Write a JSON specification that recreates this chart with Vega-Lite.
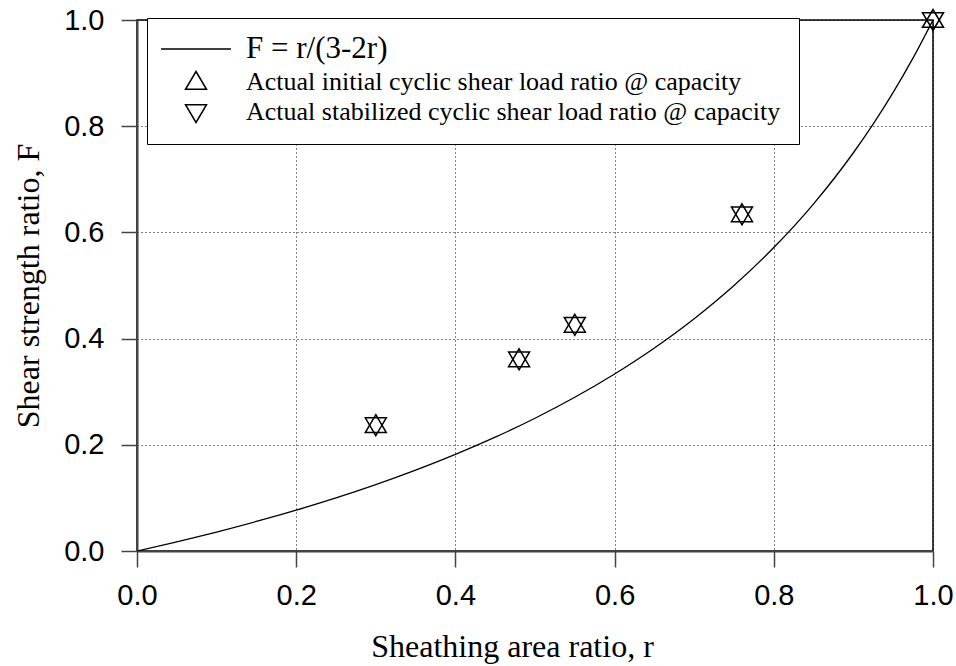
{
  "$schema": "https://vega.github.io/schema/vega-lite/v6.json",
  "autosize": {"type": "none"},
  "width": 796,
  "height": 531,
  "padding": {"left": 137, "top": 20, "right": 23, "bottom": 115},
  "background": "white",
  "config": {
    "view": {"stroke": "black", "strokeWidth": 1.5},
    "axis": {
      "grid": true,
      "gridColor": "black",
      "gridDash": [1, 3],
      "gridWidth": 1,
      "gridOpacity": 1,
      "domainColor": "#444",
      "domainWidth": 2,
      "tickColor": "#444",
      "tickWidth": 1.5,
      "tickSize": 16,
      "labelFont": "Liberation Sans",
      "labelFontSize": 29,
      "labelColor": "black",
      "titleFont": "Liberation Serif",
      "titleFontSize": 32,
      "titleFontWeight": "normal",
      "titleColor": "black"
    }
  },
  "datasets": {
    "curve": [
      {"r": 0, "F": 0},
      {"r": 0.05, "F": 0.01724},
      {"r": 0.1, "F": 0.03571},
      {"r": 0.15, "F": 0.05556},
      {"r": 0.2, "F": 0.07692},
      {"r": 0.25, "F": 0.1},
      {"r": 0.3, "F": 0.125},
      {"r": 0.35, "F": 0.15217},
      {"r": 0.4, "F": 0.18182},
      {"r": 0.45, "F": 0.21429},
      {"r": 0.5, "F": 0.25},
      {"r": 0.55, "F": 0.28947},
      {"r": 0.6, "F": 0.33333},
      {"r": 0.65, "F": 0.38235},
      {"r": 0.7, "F": 0.4375},
      {"r": 0.75, "F": 0.5},
      {"r": 0.8, "F": 0.57143},
      {"r": 0.85, "F": 0.65385},
      {"r": 0.9, "F": 0.75},
      {"r": 0.925, "F": 0.80435},
      {"r": 0.95, "F": 0.86364},
      {"r": 0.975, "F": 0.92857},
      {"r": 1.0, "F": 1.0}
    ],
    "points": [
      {"r": 0.3, "F": 0.237, "series": "Actual initial cyclic shear load ratio @ capacity"},
      {"r": 0.48, "F": 0.361, "series": "Actual initial cyclic shear load ratio @ capacity"},
      {"r": 0.55, "F": 0.426, "series": "Actual initial cyclic shear load ratio @ capacity"},
      {"r": 0.76, "F": 0.634, "series": "Actual initial cyclic shear load ratio @ capacity"},
      {"r": 1.0, "F": 1.0, "series": "Actual initial cyclic shear load ratio @ capacity"},
      {"r": 0.3, "F": 0.237, "series": "Actual stabilized cyclic shear load ratio @ capacity"},
      {"r": 0.48, "F": 0.361, "series": "Actual stabilized cyclic shear load ratio @ capacity"},
      {"r": 0.55, "F": 0.426, "series": "Actual stabilized cyclic shear load ratio @ capacity"},
      {"r": 0.76, "F": 0.634, "series": "Actual stabilized cyclic shear load ratio @ capacity"},
      {"r": 1.0, "F": 1.0, "series": "Actual stabilized cyclic shear load ratio @ capacity"}
    ]
  },
  "encoding": {
    "x": {
      "field": "r", "type": "quantitative",
      "scale": {"domain": [0, 1], "nice": false, "zero": false},
      "axis": {
        "title": "Sheathing area ratio, r",
        "values": [0, 0.2, 0.4, 0.6, 0.8, 1.0],
        "format": ".1f",
        "labelPadding": 14,
        "labelFlush": false,
        "titleX": 375,
        "titleY": 105,
        "titleBaseline": "alphabetic",
        "titleAlign": "center"
      }
    },
    "y": {
      "field": "F", "type": "quantitative",
      "scale": {"domain": [0, 1], "nice": false, "zero": false},
      "axis": {
        "title": "Shear strength ratio, F",
        "values": [0, 0.2, 0.4, 0.6, 0.8, 1.0],
        "format": ".1f",
        "labelPadding": 17,
        "labelFlush": false,
        "titleX": -99,
        "titleBaseline": "alphabetic"
      }
    }
  },
  "layer": [
    {
      "data": {"name": "curve"},
      "mark": {"type": "line", "color": "black", "strokeWidth": 1.3, "interpolate": "monotone", "clip": true}
    },
    {
      "data": {"name": "points"},
      "mark": {"type": "point", "filled": false, "stroke": "black", "strokeWidth": 1.5, "opacity": 1, "size": 441},
      "encoding": {
        "shape": {
          "field": "series", "type": "nominal",
          "scale": {
            "domain": ["F = r/(3-2r)", "Actual initial cyclic shear load ratio @ capacity", "Actual stabilized cyclic shear load ratio @ capacity"],
            "range": ["M-3.33,0L3.33,0", "M0,-1L1,0.7L-1,0.7Z", "M0,1L1,-0.7L-1,-0.7Z"]
          },
          "legend": {
            "title": null,
            "orient": "none",
            "legendX": 10,
            "legendY": -2,
            "padding": 18,
            "rowPadding": 4,
            "strokeColor": "black",
            "fillColor": "white",
            "symbolSize": 441,
            "symbolOffset": 18,
            "symbolStrokeColor": "black",
            "symbolStrokeWidth": 1.5,
            "symbolFillColor": "transparent",
            "symbolOpacity": 1,
            "labelFont": "Liberation Serif",
            "labelFontSize": {"expr": "datum.value === 'F = r/(3-2r)' ? 31 : 26"},
            "labelColor": "black",
            "labelOffset": 37,
            "labelLimit": 0
          }
        }
      }
    }
  ]
}
